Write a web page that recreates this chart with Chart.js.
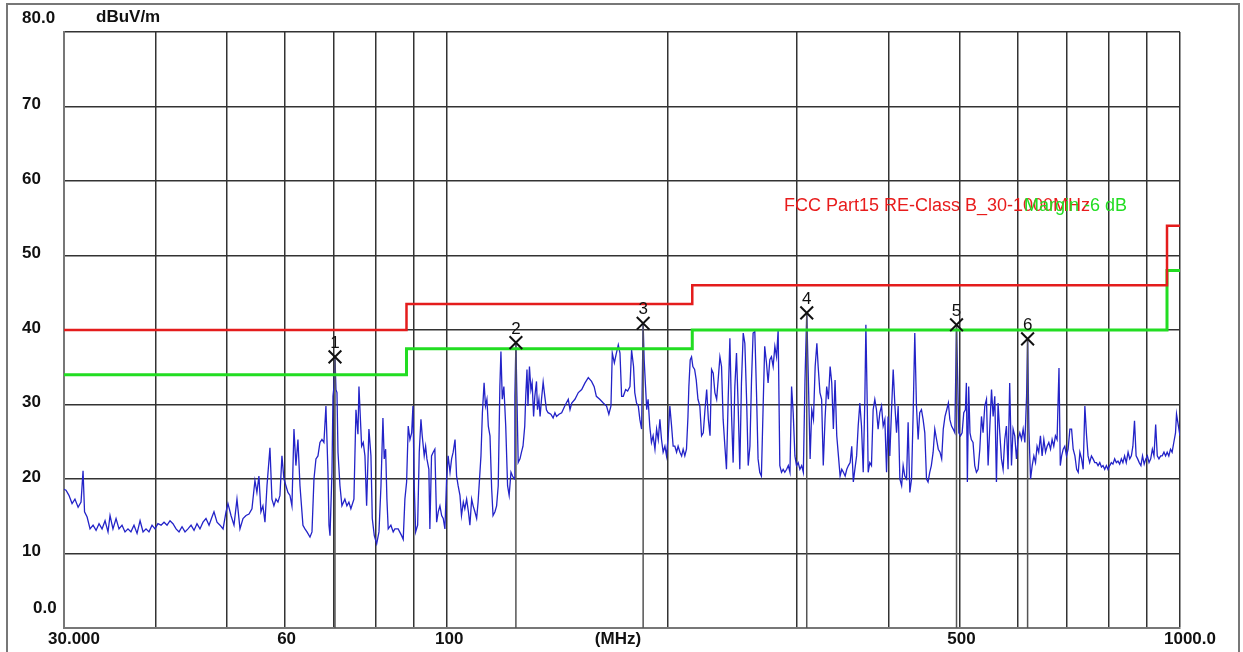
<!DOCTYPE html>
<html>
<head>
<meta charset="utf-8">
<script src="https://cdn.jsdelivr.net/npm/chart.js@4.4.0/dist/chart.umd.min.js"></script>
<style>
  html, body { margin: 0; padding: 0; background: #fff; }
  #wrap { position: relative; width: 1243px; height: 652px; overflow: hidden; }
  #frame { position: absolute; left: 6px; top: 3px; width: 1230px; height: 720px; border: 2px solid #777; }
  #chart { position: absolute; left: 0; top: 0; }
</style>
</head>
<body>
<div id="wrap">
  <div id="frame"></div>
  <canvas id="chart" width="1243" height="652"></canvas>
</div>
<script>
// ---------------------- axis / grid ----------------------
const gridFreqs = [30, 40, 50, 60, 70, 80, 90, 100, 200, 300, 400, 500, 600, 700, 800, 900, 1000];
const yTicks = [0, 10, 20, 30, 40, 50, 60, 70, 80];
const yTickLabels = ["0.0", "10", "20", "30", "40", "50", "60", "70", "80.0"];
const xLabelFreqs = [30, 60, 100, 500, 1000];
const xLabelTexts = ["30.000", "60", "100", "500", "1000.0"];

// ---------------------- limits (FCC Part15 Class B) ----------------------
const limitFreq = [30, 88, 216, 960, 1000];
const limitLevel = [40, 43.5, 46, 54, 54];
const marginLevel = [34, 37.5, 40, 48, 48];

// ---------------------- markers ----------------------
const markerNames = ["1", "2", "3", "4", "5", "6"];
const markerFreq = [70.29, 124.1, 185.1, 309.5, 495.5, 619.5];
const markerLevel = [36.4, 38.3, 40.9, 42.3, 40.7, 38.8];

// ---------------------- measured trace (MHz / dBuV/m) ----------------------
const traceFreq = [
  30.0, 30.19, 30.47, 30.77, 31.05, 31.36, 31.65, 31.85, 32.0, 32.26, 32.56, 32.87, 33.18, 33.49, 33.81,
  34.13, 34.45, 34.67, 34.99, 35.33, 35.66, 36.0, 36.34, 36.68, 37.02, 37.38, 37.74, 38.1, 38.46, 38.82,
  39.18, 39.56, 39.93, 40.3, 40.7, 41.08, 41.47, 41.86, 42.25, 42.66, 43.06, 43.47, 43.88, 44.29, 44.72,
  45.14, 45.56, 45.99, 46.43, 46.87, 47.32, 47.76, 48.06, 48.52, 48.98, 49.45, 49.91, 50.22, 50.7, 51.18,
  51.66, 52.15, 52.65, 53.15, 53.65, 54.15, 54.66, 55.0, 55.35, 55.7, 56.05, 56.41, 56.77, 57.3, 57.66,
  58.02, 58.39, 58.76, 59.13, 59.5, 59.87, 60.25, 60.63, 61.02, 61.4, 61.79, 62.17, 62.57, 62.97, 63.56,
  63.96, 64.37, 64.98, 65.39, 65.8, 66.21, 66.63, 67.05, 67.47, 67.89, 68.32, 68.76, 68.98, 69.2, 69.63,
  69.85, 70.07, 70.29, 70.51, 70.73, 70.96, 71.4, 71.84, 72.51, 72.97, 73.43, 73.89, 74.6, 75.08, 75.55,
  75.79, 76.43, 76.82, 77.23, 77.64, 78.2, 78.7, 79.03, 79.53, 80.13, 80.71, 81.22, 81.72, 82.05, 82.42,
  82.75, 83.09, 83.79, 84.4, 84.85, 85.73, 86.66, 87.1, 87.56, 88.03, 88.48, 88.96, 89.44, 89.8, 90.17,
  90.57, 91.14, 91.6, 92.09, 92.46, 93.04, 93.45, 93.83, 94.41, 94.71, 95.2, 95.7, 96.2, 96.74, 97.23,
  97.75, 98.28, 98.77, 99.29, 99.82, 100.3, 100.9, 101.4, 101.9, 102.5, 103.0, 103.5, 104.1, 104.6, 105.2,
  105.7, 106.3, 106.9, 107.4, 108.0, 108.5, 109.1, 109.7, 110.2, 111.2, 111.7, 112.3, 112.8, 113.3, 113.8,
  114.4, 115.0, 115.5, 116.2, 116.8, 117.4, 118.0, 118.4, 118.9, 119.5, 120.2, 120.9, 121.5, 122.2, 122.8,
  123.5, 123.7, 124.1, 124.5, 125.0, 125.7, 126.3, 126.9, 127.6, 128.0, 128.5, 128.9, 129.5, 130.1, 130.6,
  131.2, 131.7, 132.4, 132.8, 133.4, 133.9, 134.5, 135.2, 135.9, 136.6, 137.3, 138.5, 139.5, 140.3, 141.0,
  142.1, 143.3, 144.7, 146.3, 147.1, 147.9, 149.4, 151.0, 152.6, 154.2, 155.8, 157.4, 158.7, 159.8, 161.5,
  163.3, 165.0, 166.2, 167.3, 168.0, 169.1, 170.0, 171.2, 172.1, 173.0, 173.9, 175.2, 176.3, 177.6, 178.5,
  179.6, 180.3, 181.3, 182.3, 183.2, 184.2, 185.1, 185.7, 186.5, 187.2, 188.0, 189.0, 190.0, 191.0, 192.1,
  193.1, 194.1, 195.1, 196.1, 197.1, 198.2, 199.2, 200.3, 201.3, 202.4, 203.4, 204.5, 205.6, 206.6, 207.8,
  208.9, 209.9, 211.0, 212.1, 213.1, 213.7, 214.6, 215.5, 216.4, 217.6, 218.7, 219.9, 221.2, 222.4, 223.6,
  224.8, 226.0, 227.2, 228.4, 229.5, 230.7, 231.9, 233.2, 234.3, 235.6, 236.8, 238.0, 239.3, 240.5, 241.8,
  243.1, 244.4, 245.6, 246.9, 248.2, 249.5, 250.8, 252.1, 253.5, 254.8, 256.2, 257.5, 258.9, 260.2, 261.5,
  262.9, 264.3, 265.6, 267.0, 268.4, 269.8, 271.2, 272.7, 274.1, 275.6, 277.0, 278.5, 280.0, 281.5, 282.9,
  284.4, 285.9, 287.4, 288.9, 290.6, 292.1, 293.6, 295.1, 296.6, 298.2, 299.7, 301.3, 302.9, 304.6, 306.2,
  307.8, 309.5, 311.1, 312.8, 314.4, 316.1, 317.8, 319.5, 320.8, 322.6, 324.3, 326.0, 327.8, 329.5, 331.3,
  333.1, 334.8, 336.5, 338.3, 340.1, 341.9, 343.7, 345.5, 347.3, 349.2, 351.0, 352.8, 354.7, 356.5, 358.3,
  360.0, 362.0, 363.8, 365.7, 367.6, 369.6, 371.5, 372.7, 374.2, 375.4, 377.3, 379.3, 381.3, 383.3, 385.3,
  387.3, 389.4, 391.5, 393.5, 395.6, 397.7, 399.6, 401.8, 404.0, 406.1, 408.3, 410.4, 412.5, 414.7, 417.0,
  419.0, 421.2, 423.5, 425.6, 427.9, 430.2, 432.5, 434.6, 436.9, 439.2, 441.4, 443.8, 446.1, 448.5, 450.9,
  453.1, 455.5, 457.8, 460.4, 462.8, 465.4, 467.9, 470.4, 472.9, 475.3, 477.9, 480.5, 483.0, 485.2, 487.8,
  490.3, 492.9, 495.5, 497.2, 499.1, 501.7, 504.3, 506.9, 509.5, 511.1, 512.7, 514.8, 516.9, 519.1, 521.9,
  524.7, 527.5, 530.3, 533.1, 535.9, 538.6, 541.5, 544.4, 547.2, 550.2, 553.1, 555.9, 558.8, 561.7, 564.6,
  567.6, 570.6, 573.6, 576.6, 579.6, 582.6, 585.6, 588.9, 591.9, 595.0, 598.2, 601.2, 604.5, 607.8, 610.9,
  614.2, 617.5, 619.5, 622.0, 625.3, 628.5, 631.8, 635.1, 638.2, 641.5, 645.0, 648.4, 651.9, 655.4, 658.7,
  662.2, 665.8, 669.1, 672.6, 676.1, 679.6, 683.7, 686.5, 689.4, 692.8, 696.3, 700.0, 703.6, 707.5, 711.3,
  714.9, 718.8, 722.7, 726.3, 730.1, 734.0, 737.7, 741.6, 745.6, 749.1, 752.9, 757.1, 761.0, 765.1, 769.2,
  773.0, 777.2, 781.3, 785.2, 789.3, 793.5, 797.4, 801.9, 806.0, 810.0, 814.4, 818.8, 822.9, 827.3, 831.7,
  835.8, 840.2, 844.6, 849.5, 853.9, 858.3, 862.4, 866.8, 871.2, 875.4, 879.8, 884.5, 888.9, 893.6, 898.2,
  902.6, 907.3, 912.1, 916.8, 921.5, 926.4, 931.1, 936.0, 941.0, 945.6, 950.9, 955.7, 960.5, 965.5, 970.6,
  975.5, 980.7, 986.0, 989.1, 1000.0
];
const traceLevel = [
  18.6, 18.5, 17.8, 16.7, 17.3, 16.2, 16.9, 21.1, 15.6, 14.9, 13.3, 13.8, 13.1, 14.0, 13.3,
  14.4, 12.9, 15.1, 13.3, 14.7, 13.3, 13.8, 12.9, 13.3, 12.9, 13.8, 12.7, 14.4, 12.9, 13.3,
  12.9, 13.8, 13.3, 14.0, 13.8, 14.2, 13.8, 14.4, 14.0, 13.3, 12.9, 13.6, 12.9, 13.3, 13.8,
  13.1, 14.0, 13.3, 14.2, 14.7, 13.8, 14.9, 15.6, 14.2, 13.8, 13.3, 15.6, 16.7, 15.1, 13.8,
  17.3, 13.3, 14.7, 15.1, 15.3, 16.0, 19.8, 18.2, 20.4, 15.6, 16.4, 14.2, 19.1, 24.2, 17.3,
  16.4, 17.3, 16.9, 17.8, 23.1, 20.0, 19.1, 18.2, 17.8, 16.4, 26.7, 21.8, 25.3, 19.1, 13.8,
  13.3, 12.9, 12.2, 12.9, 20.0, 22.7, 23.1, 24.9, 25.3, 24.9, 29.8, 20.9, 13.8, 12.4, 20.9,
  31.1, 32.4, 36.4, 32.0, 31.6, 23.6, 19.1, 16.4, 17.3, 16.4, 16.9, 16.0, 17.3, 29.3, 26.0,
  32.4, 24.4, 24.9, 23.1, 16.4, 26.7, 23.1, 14.7, 12.4, 11.3, 12.9, 19.1, 28.2, 22.7, 24.0,
  17.3, 13.3, 13.8, 12.9, 13.3, 13.3, 12.4, 11.9, 17.3, 19.6, 27.1, 25.3, 26.2, 29.8, 19.1,
  12.9, 13.8, 23.6, 28.0, 25.8, 23.1, 24.4, 22.7, 21.3, 13.3, 23.1, 23.6, 24.0, 14.2, 15.6,
  16.4, 15.1, 14.7, 13.3, 20.0, 23.1, 20.9, 22.7, 23.6, 25.3, 20.4, 19.1, 17.8, 15.1, 16.9,
  16.0, 17.3, 15.6, 13.8, 17.3, 16.4, 15.6, 14.7, 16.9, 23.1, 28.9, 32.9, 29.8, 30.7, 27.1,
  25.8, 18.7, 15.1, 15.6, 16.4, 19.1, 32.4, 37.1, 30.7, 32.4, 27.1, 19.1, 17.8, 20.9, 20.4,
  20.0, 31.1, 38.3, 31.1, 22.2, 22.7, 23.6, 24.4, 27.1, 31.1, 34.7, 29.8, 35.1, 32.0, 32.9,
  28.4, 31.1, 33.1, 29.3, 30.7, 28.4, 30.7, 33.0, 31.1, 29.3, 28.9, 28.7, 28.2, 28.9, 28.4,
  28.7, 28.9, 29.8, 30.7, 29.3, 30.2, 30.7, 31.6, 32.0, 32.9, 33.6, 33.1, 32.4, 31.1, 30.7,
  30.2, 29.8, 28.7, 29.8, 36.9, 35.6, 36.7, 38.0, 36.9, 31.1, 31.1, 32.0, 31.8, 32.4, 37.3,
  35.1, 31.6, 30.2, 29.8, 28.0, 26.7, 40.9, 36.0, 32.4, 29.3, 30.7, 27.1, 24.9, 25.8, 24.0,
  26.7, 25.3, 28.0, 25.3, 23.6, 24.4, 23.1, 25.8, 29.8, 27.1, 24.4, 24.4, 23.6, 24.4, 23.6,
  23.1, 24.0, 23.1, 24.0, 28.4, 32.4, 36.0, 36.4, 35.1, 34.7, 33.3, 30.7, 29.8, 25.8, 26.2,
  29.3, 32.0, 28.0, 25.8, 34.7, 34.2, 31.6, 30.7, 33.3, 36.4, 35.1, 28.0, 24.4, 21.3, 30.7,
  38.9, 28.4, 22.2, 32.4, 36.9, 29.8, 21.3, 32.9, 39.6, 38.2, 30.7, 21.8, 24.4, 33.3, 39.6,
  39.8, 31.6, 22.7, 20.9, 20.4, 29.3, 37.8, 35.6, 32.9, 36.0, 36.4, 35.1, 37.8, 36.4, 40.0,
  21.8, 20.9, 21.3, 20.9, 21.3, 21.8, 20.9, 32.4, 28.9, 23.1, 21.8, 22.2, 21.3, 21.8, 20.9,
  33.3, 42.3, 33.3, 22.7, 29.3, 28.0, 35.1, 38.2, 35.1, 31.6, 30.7, 21.8, 28.0, 32.4, 30.7,
  35.1, 32.9, 26.7, 33.3, 25.8, 23.1, 20.4, 21.3, 20.9, 20.4, 21.3, 21.8, 22.2, 24.4, 19.6,
  21.3, 23.1, 27.1, 30.2, 27.1, 20.9, 30.7, 40.7, 30.7, 20.9, 22.2, 21.8, 29.3, 30.7, 29.3,
  26.7, 28.9, 29.8, 27.1, 28.0, 20.9, 28.4, 23.1, 29.3, 34.7, 29.8, 26.2, 29.8, 20.0, 19.1,
  21.8, 20.4, 20.0, 27.6, 18.2, 20.0, 29.3, 39.6, 29.8, 25.3, 28.9, 29.3, 28.0, 26.2, 20.0,
  19.6, 20.9, 21.8, 23.6, 26.7, 25.3, 24.0, 23.6, 22.7, 26.7, 28.4, 29.3, 30.2, 28.0, 27.1,
  26.7, 26.2, 40.7, 33.8, 26.2, 25.8, 26.2, 28.9, 29.3, 32.9, 19.6, 32.4, 26.2, 25.3, 24.9,
  21.8, 20.9, 21.3, 24.0, 28.4, 26.2, 29.8, 30.7, 21.8, 27.1, 32.0, 28.4, 31.1, 19.6, 30.2,
  26.2, 22.7, 21.3, 25.3, 27.1, 21.3, 32.9, 21.8, 26.7, 25.8, 22.7, 25.3, 26.2, 25.3, 26.7,
  24.9, 31.1, 38.8, 26.7, 20.0, 21.8, 23.1, 22.2, 24.4, 23.6, 25.8, 23.1, 25.3, 23.6, 24.4,
  24.9, 24.0, 25.3, 24.4, 25.8, 25.3, 34.9, 21.8, 23.1, 24.0, 24.4, 23.1, 24.0, 26.7, 26.7,
  24.0, 23.1, 21.3, 20.9, 23.6, 22.7, 21.3, 29.8, 25.8, 23.1, 22.2, 23.1, 22.7, 22.2, 22.2,
  21.8, 22.2, 21.6, 21.8, 21.3, 21.8, 21.3, 21.8, 22.2, 22.0, 22.7, 22.2, 22.4, 22.0, 22.7,
  22.2, 23.1, 22.2, 23.6, 22.7, 23.1, 24.4, 27.8, 23.1, 22.7, 22.2, 21.8, 23.1, 22.0, 22.7,
  23.1, 22.2, 22.7, 24.0, 23.1, 27.3, 23.1, 22.7, 23.1, 23.1, 23.6, 23.1, 23.6, 23.1, 24.0,
  23.6, 24.9, 26.2, 28.7, 25.8
];

const FONT = "'Liberation Sans', Arial, sans-serif";

// ---------------------- text drawn on the canvas ----------------------
const textPlugin = {
  id: "emiText",
  afterDraw(chart) {
    const ctx = chart.ctx;
    const xs = chart.scales.x;
    const ys = chart.scales.y;
    ctx.save();
    ctx.fillStyle = "#111";
    ctx.font = "bold 17px " + FONT;
    ctx.textBaseline = "middle";

    // y tick labels
    ctx.textAlign = "left";
    yTicks.forEach((v, i) => {
      let py = ys.getPixelForValue(v) - 2;
      let px = 22;
      if (v === 80) py = ys.getPixelForValue(v) - 14;
      if (v === 0) { py = ys.getPixelForValue(v) - 20; px = 33; }
      ctx.fillText(yTickLabels[i], px, py);
    });
    ctx.fillText("dBuV/m", 96, ys.top - 15);

    // x tick labels
    const lblY = ys.bottom + 11;
    xLabelFreqs.forEach((f, i) => {
      const px = xs.getPixelForValue(f);
      if (i === 0 || i === xLabelFreqs.length - 1) {
        ctx.textAlign = "left";
        ctx.fillText(xLabelTexts[i], px - 16, lblY);
      } else {
        ctx.textAlign = "center";
        ctx.fillText(xLabelTexts[i], px + 2, lblY);
      }
    });
    ctx.textAlign = "center";
    ctx.fillText("(MHz)", (xs.left + xs.right) / 2 - 4, lblY);

    // limit captions (overlapping, as in the original plot)
    ctx.textAlign = "left";
    ctx.font = "18px " + FONT;
    ctx.fillStyle = "#e81c1c";
    ctx.fillText("FCC Part15 RE-Class B_30-1000MHz", 784, 206);
    ctx.fillStyle = "#22dd22";
    ctx.fillText("Margin -6 dB", 1024, 206);

    // marker numbers
    ctx.fillStyle = "#111";
    ctx.font = "17px " + FONT;
    ctx.textAlign = "center";
    ctx.textBaseline = "bottom";
    markerFreq.forEach((f, i) => {
      const px = xs.getPixelForValue(f);
      const py = ys.getPixelForValue(markerLevel[i]);
      ctx.fillText(markerNames[i], px, py - 5);
    });
    ctx.restore();
  }
};

const pts = (xsArr, ysArr) => xsArr.map((x, i) => ({ x: x, y: ysArr[i] }));
const stems = [];
markerFreq.forEach((f, i) => {
  stems.push({ x: f, y: 0 }, { x: f, y: markerLevel[i] }, { x: f, y: null });
});

new Chart(document.getElementById("chart").getContext("2d"), {
  type: "line",
  data: {
    datasets: [
      {
        label: "markers",
        data: pts(markerFreq, markerLevel),
        showLine: false,
        pointStyle: "crossRot",
        pointRadius: 9,
        pointBorderColor: "#111",
        pointBorderWidth: 2,
        order: 0
      },
      {
        label: "FCC Part15 RE-Class B_30-1000MHz",
        data: pts(limitFreq, limitLevel),
        stepped: true,
        borderColor: "#e41c1c",
        borderWidth: 2.5,
        pointRadius: 0,
        order: 1
      },
      {
        label: "Margin -6 dB",
        data: pts(limitFreq, marginLevel),
        stepped: true,
        borderColor: "#22dd22",
        borderWidth: 3,
        pointRadius: 0,
        order: 2
      },
      {
        label: "marker lines",
        data: stems,
        borderColor: "#555",
        borderWidth: 1.5,
        pointRadius: 0,
        spanGaps: false,
        order: 3
      },
      {
        label: "trace",
        data: pts(traceFreq, traceLevel),
        borderColor: "#2323c8",
        borderWidth: 1.3,
        pointRadius: 0,
        tension: 0,
        order: 4
      }
    ]
  },
  options: {
    responsive: false,
    animation: false,
    layout: { padding: { left: 64, top: 32, right: 63, bottom: 24 } },
    plugins: { legend: { display: false }, tooltip: { enabled: false } },
    scales: {
      x: {
        type: "logarithmic",
        min: 30,
        max: 1000,
        afterBuildTicks: (scale) => { scale.ticks = gridFreqs.map(v => ({ value: v })); },
        ticks: { display: false },
        grid: { color: "#333", lineWidth: 1.5, drawTicks: false },
        border: { display: true, color: "#777", width: 2 }
      },
      y: {
        type: "linear",
        min: 0,
        max: 80,
        ticks: { display: false, stepSize: 10 },
        grid: { color: "#333", lineWidth: 1.5, drawTicks: false },
        border: { display: true, color: "#777", width: 2 }
      }
    }
  },
  plugins: [textPlugin]
});
</script>
</body>
</html>
